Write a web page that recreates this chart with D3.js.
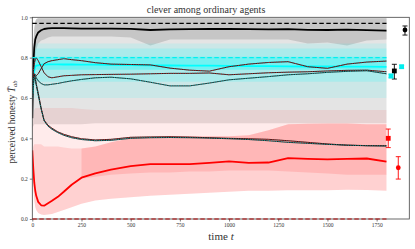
<!DOCTYPE html>
<html>
<head>
<meta charset="utf-8">
<script src="https://cdn.jsdelivr.net/npm/d3@7"></script>
<style>
  body { margin: 0; background: #fff; }
  text { font-family: "Liberation Serif", "DejaVu Serif", serif; fill: #333; }
</style>
</head>
<body>
<div class="container"></div>
<script>
const WIDTH = 415;
const HEIGHT = 249;
const LEFT = 32.3, RIGHT = 409.3, TOP = 17.3, BOTTOM = 219;

// time samples
const T = [0,5,10,15,20,30,45,60,80,100,130,160,200,250,320,400,500,600,700,800,900,1000,1100,1200,1300,1400,1500,1600,1700,1800];

// thick medians
const blackMed = [0.50,0.76,0.85,0.89,0.905,0.925,0.936,0.942,0.945,0.946,0.946,0.946,0.945,0.944,0.944,0.944,0.943,0.937,0.940,0.941,0.942,0.942,0.941,0.940,0.941,0.938,0.937,0.939,0.936,0.934];
const cyanMed  = [0.62,0.70,0.74,0.755,0.76,0.762,0.765,0.766,0.767,0.767,0.767,0.766,0.766,0.765,0.765,0.764,0.763,0.762,0.761,0.760,0.760,0.759,0.758,0.758,0.757,0.756,0.756,0.755,0.755,0.754];
const redMed   = [0.34,0.25,0.18,0.14,0.115,0.085,0.068,0.066,0.078,0.09,0.11,0.135,0.17,0.205,0.226,0.245,0.262,0.272,0.272,0.272,0.278,0.286,0.278,0.28,0.302,0.298,0.296,0.298,0.30,0.285];

// thin lines (black with coloured dots)
const lineA = [0.66,0.70,0.72,0.715,0.71,0.72,0.745,0.77,0.78,0.785,0.79,0.795,0.79,0.785,0.775,0.768,0.766,0.764,0.748,0.738,0.733,0.755,0.768,0.776,0.78,0.755,0.747,0.768,0.778,0.783];
const lineB = [0.62,0.72,0.77,0.79,0.80,0.785,0.755,0.725,0.705,0.70,0.705,0.71,0.712,0.715,0.716,0.717,0.718,0.72,0.722,0.722,0.724,0.715,0.72,0.725,0.728,0.73,0.734,0.737,0.738,0.73];
const lineC = [0.60,0.66,0.70,0.715,0.70,0.685,0.672,0.665,0.665,0.668,0.672,0.678,0.685,0.692,0.70,0.703,0.695,0.678,0.66,0.66,0.674,0.69,0.698,0.706,0.715,0.72,0.727,0.732,0.735,0.72];
const lineD = [0.70,0.72,0.715,0.70,0.67,0.625,0.55,0.49,0.465,0.45,0.432,0.42,0.408,0.398,0.392,0.395,0.405,0.407,0.408,0.406,0.403,0.40,0.398,0.395,0.388,0.38,0.372,0.366,0.364,0.363];
const lineE = [0.66,0.70,0.705,0.69,0.665,0.615,0.545,0.487,0.46,0.445,0.428,0.415,0.403,0.394,0.388,0.39,0.40,0.403,0.404,0.403,0.401,0.398,0.394,0.388,0.38,0.375,0.37,0.366,0.363,0.362];

// bands
const grayOutLo = [0.45,0.46,0.47,0.47,0.47,0.47,0.47,0.47,0.47,0.47,0.47,0.47,0.47,0.47,0.475,0.475,0.475,0.475,0.475,0.475,0.475,0.475,0.475,0.475,0.475,0.475,0.475,0.475,0.475,0.475];
const grayOutHi = [0.55,0.88,0.95,0.98,0.99,0.995,0.995,0.995,0.995,0.995,0.995,0.995,0.995,0.995,0.995,0.995,0.995,0.995,0.995,0.995,0.995,0.995,0.995,0.995,0.995,0.995,0.995,0.995,0.995,0.995];
const grayInLo  = [0.50,0.62,0.74,0.80,0.84,0.87,0.885,0.89,0.90,0.905,0.905,0.905,0.905,0.905,0.905,0.905,0.90,0.86,0.89,0.89,0.89,0.89,0.89,0.89,0.89,0.87,0.875,0.86,0.885,0.89];
const grayInHi  = [0.52,0.84,0.94,0.975,0.99,0.995,0.995,0.995,0.995,0.995,0.995,0.995,0.995,0.995,0.995,0.995,0.995,0.995,0.995,0.995,0.995,0.995,0.995,0.995,0.995,0.995,0.995,0.995,0.995,0.995];

const cyanOutLo = [0.58,0.59,0.60,0.60,0.60,0.60,0.60,0.60,0.60,0.60,0.60,0.60,0.60,0.60,0.60,0.60,0.60,0.60,0.60,0.60,0.60,0.60,0.60,0.60,0.60,0.60,0.60,0.60,0.60,0.60];
const cyanOutHi = [0.70,0.80,0.85,0.86,0.87,0.87,0.87,0.87,0.87,0.87,0.87,0.87,0.87,0.87,0.87,0.87,0.87,0.87,0.87,0.87,0.87,0.87,0.87,0.87,0.87,0.87,0.87,0.87,0.87,0.87];
const cyanMidLo = [0.60,0.64,0.66,0.67,0.68,0.68,0.68,0.68,0.68,0.68,0.68,0.68,0.68,0.68,0.68,0.68,0.68,0.68,0.68,0.68,0.68,0.68,0.68,0.68,0.68,0.68,0.68,0.68,0.68,0.68];
const cyanMidHi = [0.66,0.78,0.82,0.84,0.845,0.845,0.845,0.845,0.845,0.845,0.845,0.845,0.845,0.845,0.845,0.845,0.845,0.845,0.845,0.845,0.845,0.845,0.845,0.845,0.845,0.845,0.845,0.845,0.845,0.845];
const cyanInLo  = [0.61,0.68,0.72,0.73,0.74,0.74,0.74,0.74,0.74,0.74,0.74,0.74,0.74,0.74,0.74,0.74,0.74,0.74,0.74,0.74,0.74,0.74,0.74,0.74,0.74,0.74,0.74,0.74,0.74,0.74];
const cyanInHi  = [0.64,0.74,0.79,0.80,0.805,0.805,0.805,0.805,0.805,0.805,0.805,0.805,0.805,0.805,0.805,0.805,0.805,0.805,0.805,0.805,0.805,0.805,0.805,0.805,0.805,0.805,0.805,0.805,0.805,0.805];

const redOutLo = [0.30,0.16,0.09,0.06,0.045,0.03,0.022,0.02,0.022,0.025,0.035,0.045,0.058,0.075,0.092,0.10,0.108,0.115,0.12,0.125,0.13,0.135,0.14,0.14,0.142,0.143,0.143,0.145,0.144,0.14];
const redOutHi = [0.45,0.52,0.54,0.55,0.55,0.55,0.55,0.55,0.55,0.55,0.55,0.55,0.55,0.545,0.54,0.54,0.54,0.54,0.54,0.54,0.54,0.54,0.54,0.54,0.54,0.54,0.54,0.54,0.54,0.54];
const redInHi  = [0.34,0.36,0.37,0.37,0.37,0.37,0.37,0.36,0.36,0.36,0.36,0.355,0.35,0.35,0.36,0.38,0.40,0.405,0.41,0.41,0.41,0.41,0.415,0.44,0.47,0.472,0.474,0.474,0.47,0.47];
const redCoreLo = [null,null,null,null,null,null,null,null,null,null,null,null,null,0.20,0.21,0.22,0.225,0.23,0.23,0.235,0.235,0.24,0.24,0.24,0.235,0.23,0.225,0.22,0.22,0.22];

// reference lines
const refLevels = [0.97, 0.80, 0.0];

// points with error bars at the right
const pointT  = [1894, 1840, 1877, 1823, 1809, 1860];
const pointV  = [0.937, 0.734, 0.755, 0.709, 0.40, 0.254];
const pointLo = [0.912, 0.694, 0.748, 0.700, 0.354, 0.198];
const pointHi = [0.957, 0.767, 0.762, 0.718, 0.446, 0.309];
const pointGroup = ["k", "k", "c", "c", "r", "r"];
const pointKind  = ["o", "s", "s", "s", "s", "o"];

const xTicks = [0,250,500,750,1000,1250,1500,1750];
const yTicks = [0,0.2,0.4,0.6,0.8,1.0];

const COLORS = { k: "#000", c: "#00eeee", r: "#ff0000" };

var svg = d3.select('.container').append('svg')
  .attr('width', WIDTH).attr('height', HEIGHT);

var x = d3.scaleLinear().domain([0, 1916]).range([LEFT, RIGHT]);
var y = d3.scaleLinear().domain([0, 1]).range([BOTTOM, TOP]);

var plot = svg.append('g');
plot.append('clipPath').attr('id', 'clip')
  .append('rect').attr('x', LEFT).attr('y', TOP).attr('width', RIGHT - LEFT).attr('height', BOTTOM - TOP);
var inner = plot.append('g').attr('clip-path', 'url(#clip)');

var band = function(lo, hi, fill, op){
  var d = T.map(function(t, i){ return {t: t, lo: lo[i], hi: hi[i]}; });
  var area = d3.area()
    .defined(function(p){ return p.lo != null; })
    .x(function(p){ return x(p.t); })
    .y0(function(p){ return y(p.lo); })
    .y1(function(p){ return y(p.hi); });
  inner.append('path').attr('d', area(d)).attr('fill', fill).attr('fill-opacity', op);
};

var line = function(vals, color, w, dash){
  var gen = d3.line().x(function(p, i){ return x(T[i]); }).y(function(p){ return y(p); });
  var p = inner.append('path').attr('d', gen(vals))
    .attr('fill', 'none').attr('stroke', color).attr('stroke-width', w)
    .attr('stroke-linejoin', 'round');
  if (dash) p.attr('stroke-dasharray', dash);
  return p;
};

// bands
band(grayOutLo, grayOutHi, '#e4e4e4', 1);
band(grayInLo, grayInHi, '#c6c6c6', 1);
band(cyanOutLo, cyanOutHi, '#00ffff', 0.11);
band(cyanMidLo, cyanMidHi, '#00ffff', 0.16);
band(cyanInLo, cyanInHi, '#00ffff', 0.32);
band(redOutLo, redOutHi, '#ff0000', 0.08);
band(redOutLo, redInHi, '#ff0000', 0.11);
band(redCoreLo, redInHi, '#ff0000', 0.12);

// thick medians
line(blackMed, '#000', 1.8);
line(cyanMed, '#00ffff', 1.8);
line(redMed, '#ff0000', 1.8);

// thin lines
[[lineA, '#ff2020'], [lineB, '#ff2020'], [lineC, '#00e0e0'], [lineD, '#ff2020'], [lineE, '#00d0d0']].forEach(function(l){
  line(l[0], '#111', 0.9);
  line(l[0], l[1], 0.8, '0.8,1.6');
});

// error-bar points
var pts = plot.append('g');
pointT.forEach(function(t, i){
  var col = COLORS[pointGroup[i]];
  var cx = x(t);
  pts.append('line').attr('x1', cx).attr('x2', cx).attr('y1', y(pointLo[i])).attr('y2', y(pointHi[i]))
    .attr('stroke', col).attr('stroke-width', 0.9);
  [pointLo[i], pointHi[i]].forEach(function(v){
    pts.append('line').attr('x1', cx - 2.5).attr('x2', cx + 2.5).attr('y1', y(v)).attr('y2', y(v))
      .attr('stroke', col).attr('stroke-width', 0.9);
  });
  if (pointKind[i] === 'o') {
    pts.append('circle').attr('cx', cx).attr('cy', y(pointV[i])).attr('r', 2.4).attr('fill', col);
  } else {
    pts.append('rect').attr('x', cx - 2.4).attr('y', y(pointV[i]) - 2.4).attr('width', 4.8).attr('height', 4.8).attr('fill', col);
  }
});

// axes
var xAxis = d3.axisBottom(x).tickValues(xTicks).tickSize(2.5).tickPadding(2).tickFormat(d3.format('d'));
var yAxis = d3.axisLeft(y).tickValues(yTicks).tickSize(2.5).tickPadding(2).tickFormat(d3.format('.1f'));

var gx = svg.append('g').attr('transform', 'translate(0,' + BOTTOM + ')').call(xAxis);
var gy = svg.append('g').attr('transform', 'translate(' + LEFT + ',0)').call(yAxis);
[gx, gy].forEach(function(g){
  g.select('.domain').remove();
  g.selectAll('.tick line').attr('stroke', '#444').attr('stroke-width', 0.7);
  g.selectAll('.tick text').attr('font-size', '5.5px').attr('fill', '#333')
    .style('font-family', '"Liberation Serif", serif');
});

svg.append('rect')
  .attr('x', LEFT).attr('y', TOP).attr('width', RIGHT - LEFT).attr('height', BOTTOM - TOP)
  .attr('fill', 'none').attr('stroke', '#444').attr('stroke-width', 0.8);

// dashed reference levels (on top of the frame)
var refColors = ['#000', '#00f0f0', '#b00000'];
refLevels.forEach(function(v, i){
  svg.append('line')
    .attr('x1', x(0)).attr('x2', x(1800))
    .attr('y1', y(v)).attr('y2', y(v))
    .attr('stroke', refColors[i]).attr('stroke-width', i === 0 ? 1.3 : 1.2)
    .attr('stroke-dasharray', '4.5,2.5');
});

// title and labels
svg.append('text').attr('x', 206).attr('y', 13).attr('text-anchor', 'middle')
  .attr('font-size', '10px').text('clever among ordinary agents');

svg.append('text').attr('x', 221).attr('y', 240).attr('text-anchor', 'middle')
  .attr('font-size', '11px')
  .call(function(t){
    t.append('tspan').text('time ');
    t.append('tspan').attr('font-style', 'italic').text('t');
  });

svg.append('text')
  .attr('transform', 'translate(15,122) rotate(-90)')
  .attr('text-anchor', 'middle').attr('font-size', '9.5px')
  .call(function(t){
    t.append('tspan').text('perceived honesty ');
    t.append('tspan').attr('font-style', 'italic').text('T\u0304');
    t.append('tspan').attr('font-style', 'italic').attr('font-size', '6.5px').attr('dy', 2).text('ab');
  });
</script>
</body>
</html>
